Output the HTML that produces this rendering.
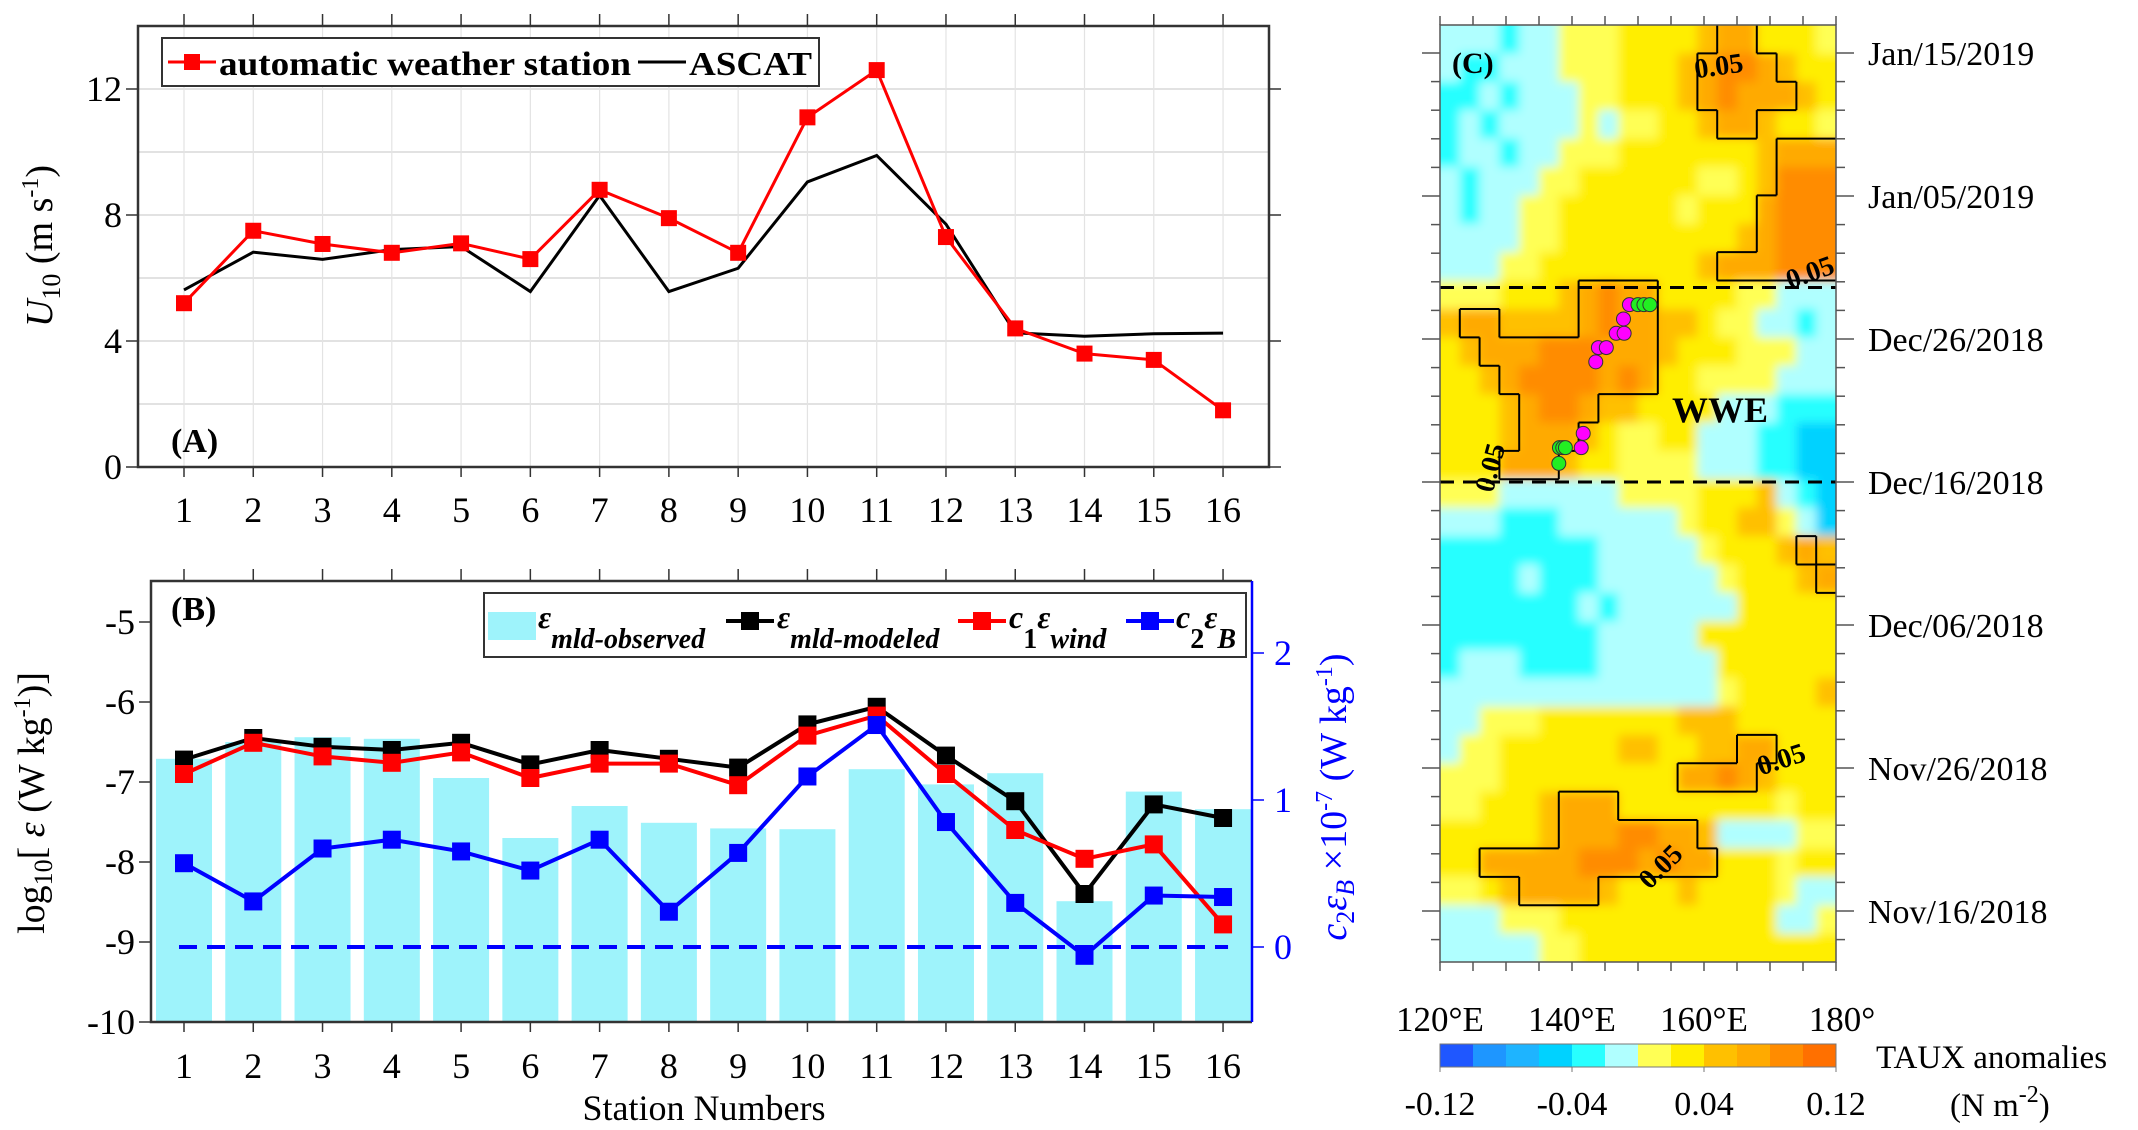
<!DOCTYPE html>
<html><head><meta charset="utf-8">
<style>
html,body{margin:0;padding:0;background:#fff;}
svg{display:block;font-family:"Liberation Serif","DejaVu Serif",serif;}
</style></head>
<body>
<svg id="fig" width="2138" height="1130" viewBox="0 0 2138 1130" xmlns="http://www.w3.org/2000/svg">
  <defs>
    <clipPath id="clipC"><rect x="1440" y="25" width="396" height="937"/></clipPath>
    <filter id="soft" x="-5%" y="-5%" width="110%" height="110%"><feGaussianBlur stdDeviation="5"/></filter>
  </defs>
  <g id="panelA"></g>
  <g id="panelB"></g>
  <g id="panelC"></g>
</svg>
<script>
// ---------- data ----------
const stations = [1,2,3,4,5,6,7,8,9,10,11,12,13,14,15,16];
const awsU10 = [5.2,7.5,7.08,6.8,7.1,6.6,8.8,7.9,6.8,11.1,12.6,7.3,4.4,3.6,3.4,1.8];
const ascatU10 = [5.62,6.82,6.59,6.9,7.0,5.57,8.62,5.57,6.31,9.05,9.89,7.71,4.26,4.15,4.23,4.25];
const yTicksA = [0,4,8,12];
const epsObserved = [-6.71,-6.5,-6.44,-6.46,-6.95,-7.70,-7.30,-7.51,-7.58,-7.59,-6.84,-7.03,-6.89,-8.49,-7.12,-7.34];
const epsModeled = [-6.72,-6.45,-6.56,-6.6,-6.51,-6.78,-6.6,-6.71,-6.82,-6.28,-6.06,-6.67,-7.24,-8.40,-7.28,-7.45];
const c1EpsWind = [-6.9,-6.51,-6.68,-6.76,-6.63,-6.95,-6.77,-6.77,-7.04,-6.42,-6.17,-6.9,-7.6,-7.96,-7.78,-8.78];
const c2EpsB = [0.57,0.31,0.67,0.73,0.65,0.52,0.73,0.24,0.64,1.16,1.51,0.85,0.30,-0.06,0.35,0.34];
const yTicksBLeft = [-5,-6,-7,-8,-9,-10];
const yTicksBRight = [0,1,2];
const lonTicks = [120,140,160,180];
const lonLabels = ["120°E","140°E","160°E","180°"];
const dateLabels = ["Nov/16/2018","Nov/26/2018","Dec/06/2018","Dec/16/2018","Dec/26/2018","Jan/05/2019","Jan/15/2019"];
const wweStartDay = 30, wweEndDay = 43.6;
const cbarColors = ["#1f57ff","#1e96ff","#1eb4ff","#00d2ff","#28ffff","#b0ffff","#ffff55","#ffee00","#ffc000","#ffaa00","#ff8c00","#ff7000"];
const cbarLabels = ["-0.12","-0.04","0.04","0.12"];
// heat field rows, top (latest) to bottom; each char = colour level index (hex)
const tauxRows = [
"55545566677778997776",
"54455566677789aa9877",
"44545556677789a99987",
"45455556566778998776",
"45545566677777778999",
"54555667777776678aaa",
"54556677777767779aaa",
"55556677777777789aaa",
"55566777777778999aaa",
"66677789a99777766555",
"89988889a99887665545",
"78999aaa999877766655",
"7789aaaa9a9776666555",
"77789aa9887777555444",
"77789998766775554433",
"77799987766665554433",
"66655555566667778543",
"55544455555567788653",
"44444444555556777898",
"44445444555555677789",
"44444445455555577777",
"44444444555557777777",
"45554444555555777777",
"55555555555555677778",
"55666777777788877777",
"56677777788778899777",
"66677777777799a98777",
"66777899977777777677",
"777778999aa998555566",
"7799999aaa9a99777677",
"66789999877787777655",
"55566677777777777556",
"55555667777777777777"];
const magentaLon = [148.7,147.8,146.7,147.9,144.0,145.2,143.6,141.7,141.4];
const magentaDay = [42.4,41.4,40.4,40.4,39.4,39.4,38.4,33.4,32.4];
const greenLon = [150.0,150.9,151.8,138.1,138.6,139.0,138.0];
const greenDay = [42.4,42.4,42.4,32.4,32.4,32.4,31.3];

const NS="http://www.w3.org/2000/svg";
function mk(parent,tag,attrs,text){const e=document.createElementNS(NS,tag);for(const k in attrs)e.setAttribute(k,attrs[k]);if(text!==undefined)e.textContent=text;parent.appendChild(e);return e;}
const FS=36;

// ---------- Panel A ----------
const A=document.getElementById('panelA');
const aL=138,aR=1269,aT=26,aB=467;
const xS=i=>184+(i-1)*69.27;
const yA=v=>aB-v*31.5;
for(let v=2;v<=12;v+=2){const l=mk(A,'line',{x1:aL,x2:aR,y1:yA(v),y2:yA(v),stroke:'#d9d9d9','stroke-width':1.5});
}
stations.forEach(s=>{const l=mk(A,'line',{x1:xS(s),x2:xS(s),y1:aT,y2:aB,stroke:'#e3e3e3','stroke-width':1.2});

mk(A,'line',{x1:xS(s),x2:xS(s),y1:aT,y2:aT-12,stroke:'#333','stroke-width':1.5});
mk(A,'line',{x1:xS(s),x2:xS(s),y1:aB,y2:aB+10,stroke:'#333','stroke-width':1.5});
const t=mk(A,'text',{x:xS(s),y:522,'font-size':FS,'text-anchor':'middle'},String(s));
});
yTicksA.forEach(v=>{mk(A,'line',{x1:aL,x2:aL-12,y1:yA(v),y2:yA(v),stroke:'#333','stroke-width':1.5});
mk(A,'line',{x1:aR,x2:aR+12,y1:yA(v),y2:yA(v),stroke:'#333','stroke-width':1.5});
const t=mk(A,'text',{x:aL-16,y:yA(v)+12,'font-size':FS,'text-anchor':'end'},String(v));
});
const boxA=mk(A,'rect',{x:aL,y:aT,width:aR-aL,height:aB-aT,fill:'none',stroke:'#333','stroke-width':2.5});

const ascLine=mk(A,'polyline',{points:stations.map((s,i)=>xS(s)+','+yA(ascatU10[i])).join(' '),fill:'none',stroke:'#000','stroke-width':3});

const awsLine=mk(A,'polyline',{points:stations.map((s,i)=>xS(s)+','+yA(awsU10[i])).join(' '),fill:'none',stroke:'#f00','stroke-width':3});

stations.forEach((s,i)=>{const r=mk(A,'rect',{x:xS(s)-8,y:yA(awsU10[i])-8,width:16,height:16,fill:'#f00'});
});
const yla=mk(A,'text',{transform:'translate(52,246) rotate(-90)','font-size':38,'text-anchor':'middle'});

yla.innerHTML='<tspan font-style="italic">U</tspan><tspan font-size="26" dy="8">10</tspan><tspan dy="-8"> (m s</tspan><tspan font-size="24" dy="-14">-1</tspan><tspan dy="14">)</tspan>';
const labA=mk(A,'text',{x:171,y:452,'font-size':34,'font-weight':'bold'},'(A)');

const legA=mk(A,'g',{});
mk(legA,'rect',{x:162,y:38,width:657,height:48,fill:'#fff',stroke:'#333','stroke-width':2});
mk(legA,'line',{x1:168,x2:216,y1:62,y2:62,stroke:'#f00','stroke-width':3});
mk(legA,'rect',{x:184,y:54,width:16,height:16,fill:'#f00'});
const le1=mk(legA,'text',{x:219,y:75,'font-size':34,'font-weight':'bold',textLength:412,lengthAdjust:'spacingAndGlyphs'},'automatic weather station');

mk(legA,'line',{x1:638,x2:686,y1:62,y2:62,stroke:'#000','stroke-width':3});
const le2=mk(legA,'text',{x:689,y:75,'font-size':34,'font-weight':'bold',textLength:123,lengthAdjust:'spacingAndGlyphs'},'ASCAT');


// ---------- Panel B ----------
const B=document.getElementById('panelB');
const bL=151,bR=1252,bT=581,bB=1022;
const yL=v=>622+(-5-v)*80;
const yR=v=>947-v*147;
epsObserved.forEach((v,i)=>{const r=mk(B,'rect',{x:xS(stations[i])-28,y:yL(v),width:56,height:bB-yL(v),fill:'#9ef3fb'});
});
const zl=mk(B,'line',{x1:xS(1)-5,x2:xS(16)+5,y1:yR(0),y2:yR(0),stroke:'#00f','stroke-width':4,'stroke-dasharray':'18 10'});

stations.forEach(s=>{mk(B,'line',{x1:xS(s),x2:xS(s),y1:bT,y2:bT-12,stroke:'#333','stroke-width':1.5});
mk(B,'line',{x1:xS(s),x2:xS(s),y1:bB,y2:bB+10,stroke:'#333','stroke-width':1.5});
const t=mk(B,'text',{x:xS(s),y:1078,'font-size':FS,'text-anchor':'middle'},String(s));
});
yTicksBLeft.forEach(v=>{mk(B,'line',{x1:bL,x2:bL-12,y1:yL(v),y2:yL(v),stroke:'#333','stroke-width':1.5});
const t=mk(B,'text',{x:bL-16,y:yL(v)+12,'font-size':FS,'text-anchor':'end'},String(v));
});
yTicksBRight.forEach(v=>{mk(B,'line',{x1:bR,x2:bR+12,y1:yR(v),y2:yR(v),stroke:'#00f','stroke-width':1.5});
const t=mk(B,'text',{x:bR+22,y:yR(v)+12,'font-size':FS,fill:'#00f'},String(v));
});
mk(B,'polyline',{points:`${bR},${bT} ${bL},${bT} ${bL},${bB} ${bR},${bB}`,fill:'none',stroke:'#333','stroke-width':2.5});
const rax=mk(B,'line',{x1:bR,x2:bR,y1:bT,y2:bB,stroke:'#00f','stroke-width':2.5});

function series(vals,yf,col,name){const p=mk(B,'polyline',{points:stations.map((s,i)=>xS(s)+','+yf(vals[i])).join(' '),fill:'none',stroke:col,'stroke-width':4});

stations.forEach((s,i)=>{const r=mk(B,'rect',{x:xS(s)-9,y:yf(vals[i])-9,width:18,height:18,fill:col});
});}
series(epsModeled,yL,'#000','eps-modeled');
series(c1EpsWind,yL,'#f00','c1-eps-wind');
series(c2EpsB,yR,'#00f','c2-eps-b');
const ylb=mk(B,'text',{transform:'translate(44,803) rotate(-90)','font-size':38,'text-anchor':'middle'});

ylb.innerHTML='log<tspan font-size="26" dy="8">10</tspan><tspan dy="-8">[ </tspan><tspan font-style="italic">ε</tspan> (W kg<tspan font-size="24" dy="-14">-1</tspan><tspan dy="14">)]</tspan>';
const ylr=mk(B,'text',{transform:'translate(1346,797) rotate(-90)','font-size':38,'text-anchor':'middle',fill:'#00f'});

ylr.innerHTML='<tspan font-style="italic">c</tspan><tspan font-size="26" dy="8">2</tspan><tspan dy="-8" font-style="italic">ε</tspan><tspan font-size="26" dy="8" font-style="italic">B</tspan><tspan dy="-8"> ×10</tspan><tspan font-size="24" dy="-14">-7</tspan><tspan dy="14"> (W kg</tspan><tspan font-size="24" dy="-14">-1</tspan><tspan dy="14">)</tspan>';
const xtb=mk(B,'text',{x:704,y:1120,'font-size':36,'text-anchor':'middle'},'Station Numbers');

const labB=mk(B,'text',{x:171,y:620,'font-size':34,'font-weight':'bold'},'(B)');

const legB=mk(B,'g',{});
mk(legB,'rect',{x:484,y:593,width:762,height:64,fill:'#fff',stroke:'#333','stroke-width':2});
mk(legB,'rect',{x:488,y:612,width:48,height:28,fill:'#9ef3fb'});
function legTxt(x,main,sub,name){const t=mk(legB,'text',{x:x,y:628,'font-size':32,'font-style':'italic','font-weight':'bold'});
t.innerHTML=main+'<tspan dy="20" font-size="28">'+sub+'</tspan>';}
legTxt(538,'ε','mld-observed','legend-entry-observed');
mk(legB,'line',{x1:726,x2:774,y1:621,y2:621,stroke:'#000','stroke-width':4});mk(legB,'rect',{x:741,y:612,width:18,height:18,fill:'#000'});
legTxt(777,'ε','mld-modeled','legend-entry-modeled');
mk(legB,'line',{x1:958,x2:1006,y1:621,y2:621,stroke:'#f00','stroke-width':4});mk(legB,'rect',{x:973,y:612,width:18,height:18,fill:'#f00'});
const tw=mk(legB,'text',{x:1009,y:628,'font-size':32,'font-style':'italic','font-weight':'bold'});

tw.innerHTML='c<tspan dy="20" font-size="28" font-style="normal">1</tspan><tspan dy="-20">ε</tspan><tspan dy="20" font-size="28">wind</tspan>';
mk(legB,'line',{x1:1126,x2:1174,y1:621,y2:621,stroke:'#00f','stroke-width':4});mk(legB,'rect',{x:1141,y:612,width:18,height:18,fill:'#00f'});
const tb=mk(legB,'text',{x:1176,y:628,'font-size':32,'font-style':'italic','font-weight':'bold'});

tb.innerHTML='c<tspan dy="20" font-size="28" font-style="normal">2</tspan><tspan dy="-20">ε</tspan><tspan dy="20" font-size="28">B</tspan>';

// ---------- Panel C ----------
const C=document.getElementById('panelC');
const cL=1440,cR=1836,cT=25,cB=962;
const xLon=l=>cL+(l-120)*(cR-cL)/60;
const yDay=d=>911-d*14.3;
const nR=tauxRows.length,nC=tauxRows[0].length;
const cw=(cR-cL)/nC,ch=(cB-cT)/nR;
const clipG=mk(C,'g',{'clip-path':'url(#clipC)'});


const heatG=mk(clipG,'g',{filter:'url(#soft)'});
tauxRows.forEach((row,r)=>{for(let c=0;c<nC;c++){const lv=parseInt(row[c],16);
const x=cL+c*cw-(c===0?12:0), w=cw+0.6+(c===0?12:0)+(c===nC-1?12:0);
const y=cT+r*ch-(r===0?12:0), h=ch+0.6+(r===0?12:0)+(r===nR-1?12:0);
const cell=mk(heatG,'rect',{x:x.toFixed(2),y:y.toFixed(2),width:w.toFixed(2),height:h.toFixed(2),fill:cbarColors[lv]});
}});
// contour-ish boundary between >=9 and <9
const lvAt=(r,c)=>(r<0||r>=nR||c<0||c>=nC)?-1:parseInt(tauxRows[r][c],16);
let d='';
for(let r=0;r<nR;r++)for(let c=0;c<nC;c++){if(lvAt(r,c)<9)continue;const x0=cL+c*cw,y0=cT+r*ch;
if(lvAt(r-1,c)>=0&&lvAt(r-1,c)<9)d+=`M${x0},${y0}h${cw}`;
if(lvAt(r+1,c)>=0&&lvAt(r+1,c)<9)d+=`M${x0},${y0+ch}h${cw}`;
if(lvAt(r,c-1)>=0&&lvAt(r,c-1)<9)d+=`M${x0},${y0}v${ch}`;
if(lvAt(r,c+1)>=0&&lvAt(r,c+1)<9)d+=`M${x0+cw},${y0}v${ch}`;}
const ct=mk(C,'path',{d:d,fill:'none',stroke:'#000','stroke-width':2});

[[1720,75,-8],[1813,281,-20],[1499,470,-75],[1784,768,-18],[1667,873,-45]].forEach(p=>{
const t=mk(C,'text',{transform:`translate(${p[0]},${p[1]}) rotate(${p[2]})`,'font-size':28,'font-weight':'bold','text-anchor':'middle'},'0.05');
});
[wweStartDay,wweEndDay].forEach(dd=>{const l=mk(C,'line',{x1:cL,x2:cR,y1:yDay(dd),y2:yDay(dd),stroke:'#000','stroke-width':3,'stroke-dasharray':'14 9'});
});
magentaLon.forEach((l,i)=>{const c=mk(C,'circle',{cx:xLon(l),cy:yDay(magentaDay[i]),r:7,fill:'#ff00ff',stroke:'#333','stroke-width':1});
});
greenLon.forEach((l,i)=>{const c=mk(C,'circle',{cx:xLon(l),cy:yDay(greenDay[i]),r:7,fill:'#22ee22',stroke:'#333','stroke-width':1});
});
const wwe=mk(C,'text',{x:1672,y:422,'font-size':36,'font-weight':'bold'},'WWE');

const labC=mk(C,'text',{x:1452,y:73,'font-size':30,'font-weight':'bold'},'(C)');

const fr=mk(C,'rect',{x:cL,y:cT,width:cR-cL,height:cB-cT,fill:'none',stroke:'#555','stroke-width':1.5});

for(let l=120;l<=180;l+=5){mk(C,'line',{x1:xLon(l),x2:xLon(l),y1:cT,y2:cT-9,stroke:'#555','stroke-width':1.5});
mk(C,'line',{x1:xLon(l),x2:xLon(l),y1:cB,y2:cB+9,stroke:'#555','stroke-width':1.5});}
for(let dd=-2;dd<=64;dd+=2){const y=yDay(dd);if(y<cT||y>cB)continue;const maj=dd%10===0;
mk(C,'line',{x1:cL,x2:cL-(maj?18:9),y1:y,y2:y,stroke:'#555','stroke-width':1.5});
mk(C,'line',{x1:cR,x2:cR+(maj?18:9),y1:y,y2:y,stroke:'#555','stroke-width':1.5});}
dateLabels.forEach((s,i)=>{const t=mk(C,'text',{x:1868,y:yDay(i*10)+12,'font-size':34},s);
});
lonTicks.forEach((l,i)=>{const t=mk(C,'text',{x:xLon(l)+(i===3?6:0),y:1031,'font-size':35,'text-anchor':'middle'},lonLabels[i]);
});
const cbw=(cR-cL)/cbarColors.length;
cbarColors.forEach((c,i)=>{const r=mk(C,'rect',{x:cL+i*cbw,y:1044,width:cbw+0.5,height:23,fill:c});
});
mk(C,'rect',{x:cL,y:1044,width:cR-cL,height:23,fill:'none',stroke:'#777','stroke-width':1});
cbarLabels.forEach((s,i)=>{const x=cL+i*(cR-cL)/3;mk(C,'line',{x1:x,x2:x,y1:1067,y2:1072,stroke:'#777'});
const t=mk(C,'text',{x:x,y:1115,'font-size':34,'text-anchor':'middle'},s);
});
const cbt=mk(C,'text',{x:1876,y:1068,'font-size':33},'TAUX anomalies');

const cbu=mk(C,'text',{x:1950,y:1116,'font-size':33});

cbu.innerHTML='(N m<tspan font-size="24" dy="-14">-2</tspan><tspan dy="14">)</tspan>';
</script>
</body></html>
